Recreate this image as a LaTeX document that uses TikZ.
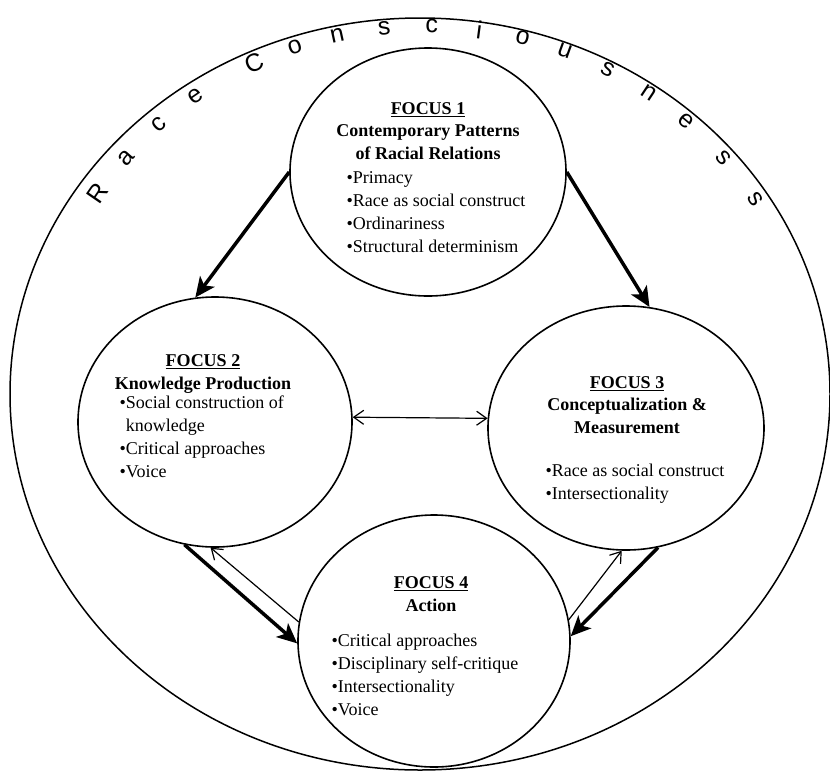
\documentclass[tikz,border=0pt]{standalone}
\usepackage{fontspec}
\setmainfont{Liberation Serif}
\newfontfamily\ringfont{Liberation Sans}
\usetikzlibrary{shapes.geometric, arrows.meta, positioning}

\tikzset{
  >={Straight Barb[length=10pt,width=14pt]},
  focus/.style={draw, ellipse, line width=1.6pt, inner sep=0pt},
  heading/.style={font=\fontsize{18}{22.5}\selectfont\bfseries, align=center},
  items/.style={font=\fontsize{18}{23}\selectfont, align=left, anchor=west},
  thickarrow/.style={line width=3.5pt, -{Stealth[length=20pt,width=18pt,inset=5pt]}},
  thinarrow/.style={line width=1.2pt, ->}
}

\begin{document}
\begin{tikzpicture}[x=1pt, y=-1pt]
    \useasboundingbox (0,0) rectangle (830,772);

    % Race consciousness ring
    \node[draw, ellipse, line width=1.5pt, inner sep=0pt, minimum width=820pt, minimum height=752pt] (ring) at (420,394) {};
    \foreach \ch/\t [count=\k] in {R/147, a/140, c/133, e/126, C/116, o/109.5, n/103, s/96, c/89, i/82, o/75.5, u/69, s/62, n/55, e/48, s/40, s/32}
        \node[font=\ringfont\fontsize{25}{25}\selectfont, rotate={atan2(-368*cos(\t),390*sin(\t))}] (letter\k) at ({425+390*cos(\t)},{394-368*sin(\t)}) {\ch};

    % Focus circles
    \node[focus, minimum width=276pt, minimum height=248pt] (f1) at (428,172) {};
    \node[focus, minimum width=274pt, minimum height=250pt] (f2) at (215,422) {};
    \node[focus, minimum width=276pt, minimum height=244pt] (f3) at (626,428) {};
    \node[focus, minimum width=272pt, minimum height=252pt] (f4) at (434,641) {};

    % Focus 1
    \node[heading] (f1head) at (428,131) {\underline{FOCUS 1}\\Contemporary Patterns\\of Racial Relations};
    \node[items] (f1list) at (343,212) {•Primacy\\•Race as social construct\\•Ordinariness\\•Structural determinism};

    % Focus 2
    \node[heading] (f2head) at (203,374) {\underline{FOCUS 2}\\Knowledge Production};
    \node[items] (f2list) at (116,437) {•Social construction of\\\phantom{•}knowledge\\•Critical approaches\\•Voice};

    % Focus 3
    \node[heading] (f3head) at (627,405) {\underline{FOCUS 3}\\Conceptualization \&\\Measurement};
    \node[items] (f3list) at (542,484) {•Race as social construct\\•Intersectionality};

    % Focus 4
    \node[heading] (f4head) at (431,594) {\underline{FOCUS 4}\\Action};
    \node[items] (f4list) at (328,675) {•Critical approaches\\•Disciplinary self-critique\\•Intersectionality\\•Voice};

    % Arrows
    \draw[thickarrow] (f1.west) -- (f2.99);
    \draw[thickarrow] (f1.east) -- (f3.79);
    \draw[thinarrow, <->] (f2.2) -- (f3.176);
    \draw[thickarrow] (f2.256) -- (f4.181);
    \draw[thinarrow] (f4.172) -- (f2.268);
    \draw[thickarrow] (f3.285) -- (f4.2);
    \draw[thinarrow] (f4.9) -- (f3.268);
\end{tikzpicture}
\end{document}
